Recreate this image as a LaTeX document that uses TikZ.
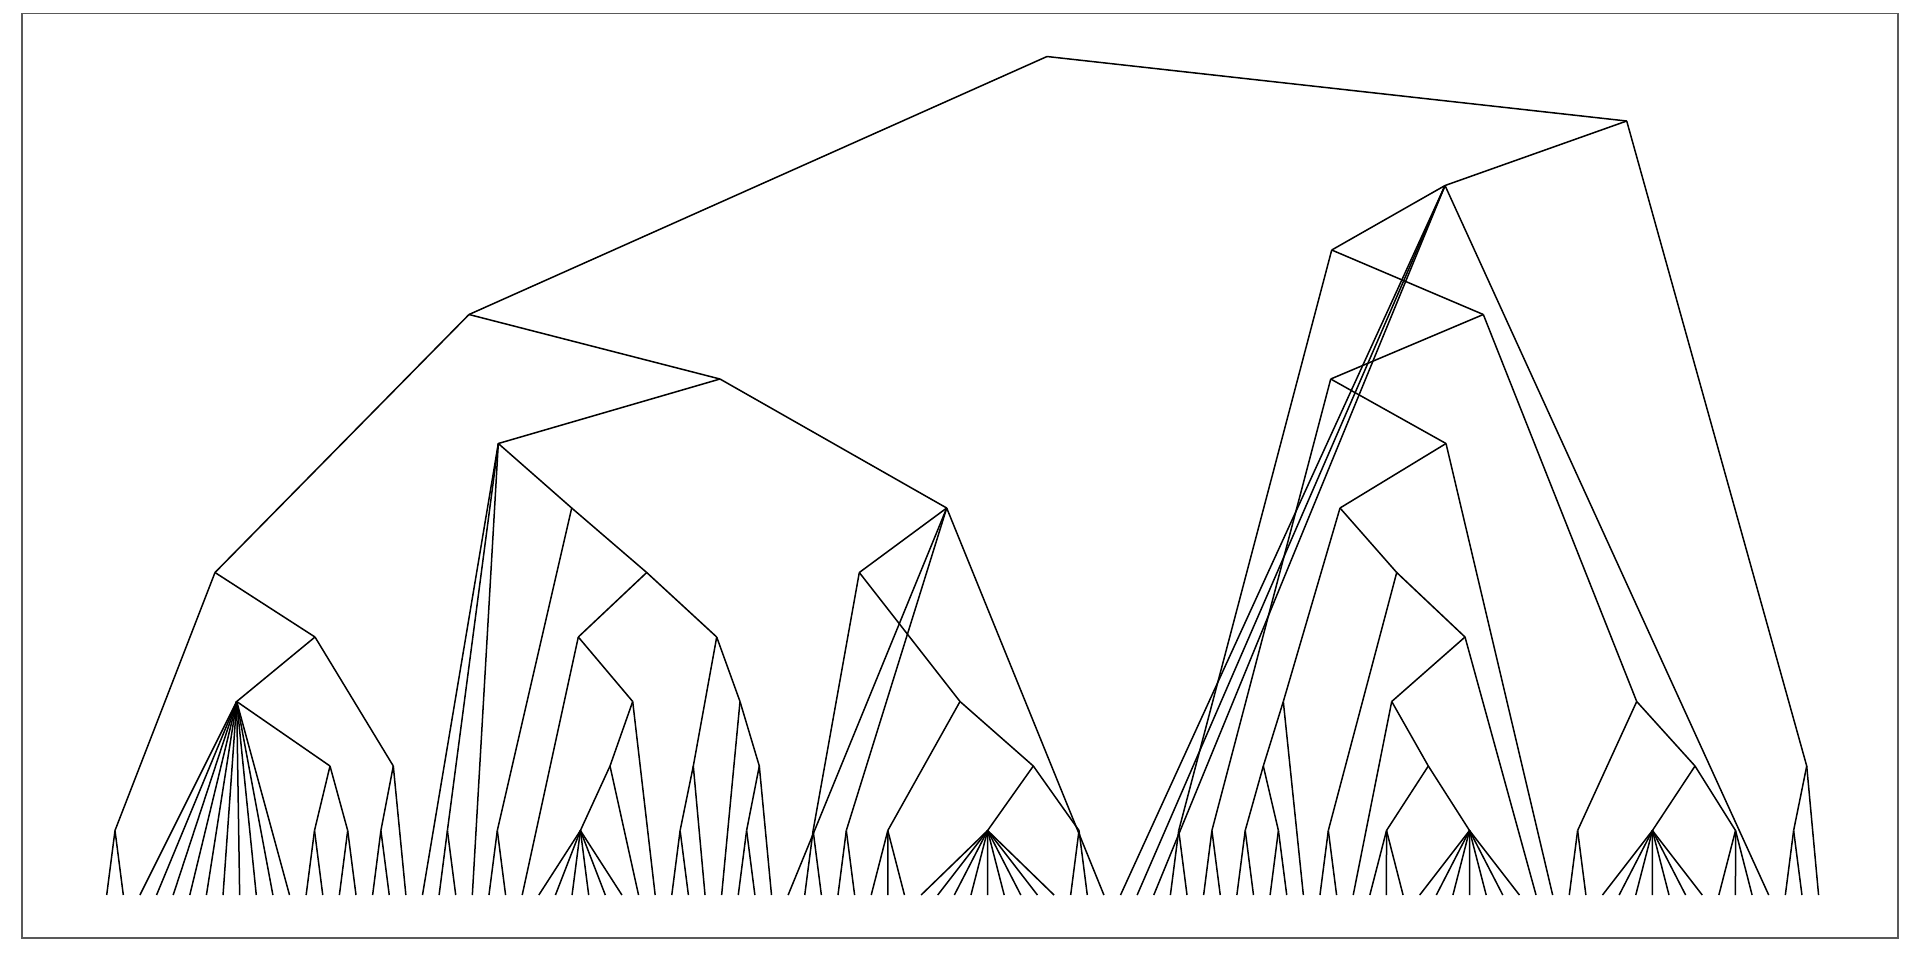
\documentclass[tikz,border=0pt]{standalone}
\usepackage{tikz}
\tikzset{branch/.style={black, line width=.75pt}}
\tikzset{frame/.style={black!65, line width=.6pt}}
\begin{document}
\begin{tikzpicture}[x=.5pt,y=-.5pt]
\useasboundingbox (0,0) rectangle (1920,960);
\draw[frame] (22,13.5) rectangle (1898,938);
% leaves
\foreach \i in {0,...,103} {
 \coordinate (l\i) at ({106.7+16.62*\i},895);
};
% inner nodes, one row per level
\coordinate (R) at (1047,56.5);
\coordinate (A) at (1626.7,121);
\coordinate (B) at (1445,185.5);
\coordinate (C) at (1331.7,250);
\coordinate (D) at (469,314.5);   \coordinate (E) at (1483.3,314.5);
\coordinate (F) at (720,379);     \coordinate (G) at (1330.7,379);
\coordinate (H) at (498.3,443.5); \coordinate (I) at (1446,443.5);
\coordinate (P7) at (571.7,508);  \coordinate (J) at (946.7,508);  \coordinate (K) at (1340,508);
\coordinate (L) at (215,572.5);   \coordinate (P8) at (646.7,572.5);
\coordinate (M8) at (859.3,572.5); \coordinate (K8) at (1396.7,572.5);
\coordinate (Nb) at (315,637);    \coordinate (Q9) at (578.3,637);
\coordinate (P9) at (716.7,637);  \coordinate (K9) at (1465,637);
\coordinate (Fa) at (236.7,701.5); \coordinate (Q10) at (632.7,701.5);
\coordinate (P10) at (740,701.5); \coordinate (M10) at (960,701.5);
\coordinate (K10) at (1283.3,701.5); \coordinate (K10b) at (1391.7,701.5);
\coordinate (V10) at (1636.7,701.5);
\coordinate (Nd) at (330,766);    \coordinate (Nc) at (393.3,766);
\coordinate (Q11) at (610,766);   \coordinate (P11a) at (693.3,766);
\coordinate (P11b) at (759.3,766); \coordinate (M11) at (1033.3,766);
\coordinate (K11) at (1263.3,766); \coordinate (K11b) at (1428.3,766);
\coordinate (V11) at (1695,766);  \coordinate (W11) at (1806.7,766);
\foreach \n/\x in {Na/115,Ne/314.5,Nf/347.7,Ng/380.9,Nh/447.4,Ni/497.3,Fb/580.4,
 Nj/680.1,Nk/746.6,Nl/813.1,Nm/846.3,Nn/887.8,Fc/987.6,No/1079,Np/1178.7,
 Nq/1211.9,Nr/1245.2,Ns/1278.4,Nt/1328.3,Nu/1386.5,Fd/1469.5,Nv/1577.6,
 Fe/1652.4,Nw/1735.5,Nx/1793.6} {
 \coordinate (\n) at (\x,830.5);
};
% branches between inner nodes
\foreach \a/\b in {R/D,R/A,A/B,A/W11,B/C,B/l61,B/l62,B/l63,B/l100,C/Np,C/E,
 D/L,D/F,E/G,E/V10,F/H,F/J,G/Nq,G/I,H/l19,H/Nh,H/l22,H/P7,I/K,I/l87,
 J/M8,J/l41,J/Nm,J/l60,K/K10,K/K8,P7/Ni,P7/P8,L/Na,L/Nb,P8/Q9,P8/P9,
 M8/Nl,M8/M10,K8/Nt,K8/K9,Nb/Fa,Nb/Nc,Q9/l25,Q9/Q10,P9/P11a,P9/P10,
 K9/K10b,K9/l86,Fa/Nd,Q10/Q11,Q10/l33,P10/l37,P10/P11b,M10/Nn,M10/M11,
 K10/K11,K10/l72,K10b/l75,K10b/K11b,V10/Nv,V10/V11,Nc/Ng,Nc/l18,
 Nd/Ne,Nd/Nf,Q11/Fb,Q11/l32,P11a/Nj,P11a/l36,P11b/Nk,P11b/l40,
 M11/Fc,M11/No,K11/Nr,K11/Ns,K11b/Nu,K11b/Fd,V11/Fe,V11/Nw,W11/Nx,W11/l103} {
 \draw[branch] (\a) -- (\b);
};
% lowest nodes down to their leaves
\foreach \n/\first/\last in {Na/0/1,Fa/2/11,Ne/12/13,Nf/14/15,Ng/16/17,Nh/20/21,
 Ni/23/24,Fb/26/31,Nj/34/35,Nk/38/39,Nl/42/43,Nm/44/45,Nn/46/48,Fc/49/57,
 No/58/59,Np/64/65,Nq/66/67,Nr/68/69,Ns/70/71,Nt/73/74,Nu/76/78,Fd/79/85,
 Nv/88/89,Fe/90/96,Nw/97/99,Nx/101/102} {
 \foreach \i in {\first,...,\last} {
  \draw[branch] (\n) -- (l\i);
 };
};
\end{tikzpicture}
\end{document}
